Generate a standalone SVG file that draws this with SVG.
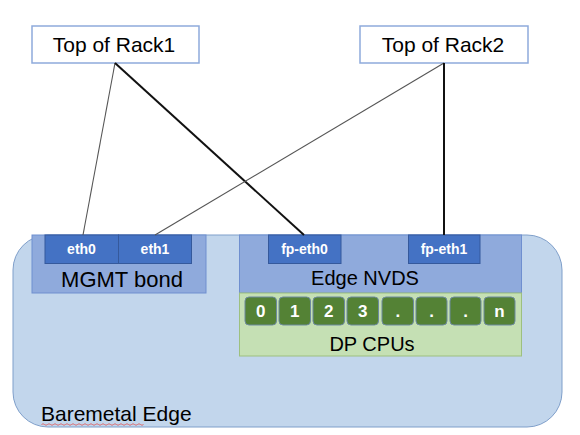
<svg xmlns="http://www.w3.org/2000/svg" width="580" height="435" viewBox="0 0 580 435">
<style>
text{font-family:"Liberation Sans",Arial,sans-serif;}
.tor{fill:#ffffff;stroke:#8eaadb;stroke-width:1.5;}
.big{font-size:20px;fill:#000;text-anchor:middle;}
.port{fill:#4472c4;stroke:#35599c;stroke-width:1;}
.ptxt{font-size:14px;font-weight:bold;fill:#ffffff;text-anchor:middle;}
.grp{fill:#8faadc;stroke:#6f8fcf;stroke-width:1;}
.cpu{fill:#548235;stroke:#6d8aa0;stroke-width:1;}
.ctxt{font-size:17px;font-weight:bold;fill:#ffffff;text-anchor:middle;}
.thin{stroke:#555;stroke-width:1.1;fill:none;}
.thick{stroke:#111;stroke-width:2;fill:none;}
</style>
<rect x="0" y="0" width="580" height="435" fill="#ffffff"/>
<g id="baremetal-edge">
<rect x="13" y="235" width="549" height="192" rx="35" ry="35" fill="#c2d6ec" stroke="#7f9fca" stroke-width="1"/>
<text x="41" y="421" style="font-size:21px;fill:#000;">Baremetal Edge</text>
<path d="M41.5 424.5 q1.5 -1.5 3 0 t3 0 t3 0 t3 0 t3 0 t3 0 t3 0 t3 0 t3 0 t3 0 t3 0 t3 0 t3 0 t3 0 t3 0 t3 0 t3 0 t3 0 t3 0 t3 0 t3 0 t3 0 t3 0 t3 0 t3 0 t3 0 t3 0 t3 0 t3 0 t3 0 t3 0 t3 0 t3 0 t3 0" fill="none" stroke="#e05050" stroke-width="0.8"/>
</g>
<g id="tor1">
<rect class="tor" x="32" y="26" width="167" height="37"/>
<text class="big" x="114" y="52" style="font-size:21px">Top of Rack1</text>
</g>
<g id="tor2">
<rect class="tor" x="360" y="26" width="168" height="37"/>
<text class="big" x="443" y="52" style="font-size:21px">Top of Rack2</text>
</g>
<g id="mgmt-bond">
<rect class="grp" x="32" y="235" width="174" height="58"/>
<text class="big" x="122" y="287" style="font-size:22px">MGMT bond</text>
</g>
<g id="eth0">
<rect class="port" x="45" y="235" width="73.5" height="28.5"/>
<text class="ptxt" x="81.5" y="253.5">eth0</text>
</g>
<g id="eth1">
<rect class="port" x="118.5" y="235" width="73" height="28.5"/>
<text class="ptxt" x="155" y="253.5">eth1</text>
</g>
<g id="edge-nvds">
<rect class="grp" x="239.5" y="235" width="282" height="58"/>
<text class="big" x="365" y="285">Edge NVDS</text>
</g>
<g id="fp-eth0">
<rect class="port" x="268.5" y="235" width="72.5" height="28.5"/>
<text class="ptxt" x="304.5" y="253.5">fp-eth0</text>
</g>
<g id="fp-eth1">
<rect class="port" x="408.5" y="235" width="71.5" height="28.5"/>
<text class="ptxt" x="444" y="253.5">fp-eth1</text>
</g>
<g id="dp-cpus">
<rect x="239.5" y="293" width="282" height="63" fill="#c5e0b4" stroke="#9dc07f" stroke-width="1"/>
<text class="big" x="372" y="351">DP CPUs</text>
</g>
<g id="cpu-0"><rect class="cpu" x="245" y="297" width="31.5" height="28" rx="4"/><text class="ctxt" x="260.75" y="317">0</text></g>
<g id="cpu-1"><rect class="cpu" x="279" y="297" width="31.5" height="28" rx="4"/><text class="ctxt" x="294.75" y="317">1</text></g>
<g id="cpu-2"><rect class="cpu" x="313" y="297" width="31.5" height="28" rx="4"/><text class="ctxt" x="328.75" y="317">2</text></g>
<g id="cpu-3"><rect class="cpu" x="347" y="297" width="31.5" height="28" rx="4"/><text class="ctxt" x="362.75" y="317">3</text></g>
<g id="cpu-4"><rect class="cpu" x="382" y="297" width="31.5" height="28" rx="4"/><text class="ctxt" x="397.75" y="317">.</text></g>
<g id="cpu-5"><rect class="cpu" x="416" y="297" width="31" height="28" rx="4"/><text class="ctxt" x="431.5" y="317">.</text></g>
<g id="cpu-6"><rect class="cpu" x="450" y="297" width="31" height="28" rx="4"/><text class="ctxt" x="465.5" y="317">.</text></g>
<g id="cpu-n"><rect class="cpu" x="484" y="297" width="31" height="28" rx="4"/><text class="ctxt" x="499.5" y="317">n</text></g>
<g id="connectors">
<line class="thin" x1="115" y1="63" x2="83" y2="235"/>
<line class="thick" x1="115" y1="63" x2="304" y2="235"/>
<line class="thin" x1="444" y1="63" x2="155" y2="235"/>
<line class="thick" x1="444" y1="63" x2="444" y2="235"/>
</g>
</svg>
